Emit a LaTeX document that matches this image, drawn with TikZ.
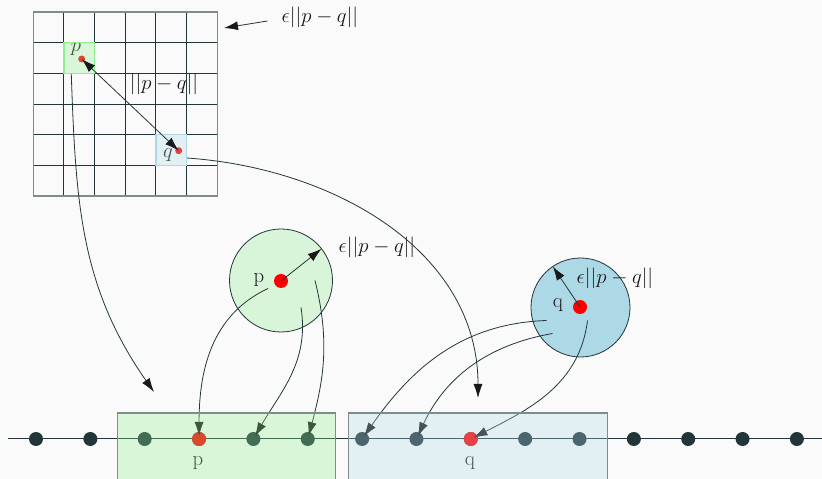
\documentclass[tikz,border=0pt]{standalone}
\usepackage{fontspec}
\usepackage{tikz}
\usetikzlibrary{arrows.meta,calc}
\definecolor{bgc}{HTML}{FAFAFA}
\definecolor{ink}{HTML}{22363A}
\definecolor{rim}{HTML}{7F8C8D}
\definecolor{cellgreen}{HTML}{90EE90}
\definecolor{cellblue}{HTML}{ADD8E6}
\definecolor{discgreen}{HTML}{D9F5D9}

\begin{document}
\begin{tikzpicture}[x=1pt,y=1pt,
  >={Latex[length=14pt,width=9pt,color=black!90]},
  lbl/.style={font=\fontsize{20.74}{24}\selectfont, text=black!90, inner sep=0pt},
  dot/.style={circle, fill=ink, minimum size=14pt, inner sep=0pt, outer sep=0pt},
  reddot/.style={dot, fill=red},
  smalldot/.style={circle, fill=red, minimum size=7pt, inner sep=0pt, outer sep=0pt},
  cellbox/.style={minimum size=30.65pt, inner sep=0pt, fill opacity=0.3, line width=1.2pt},
  disc/.style={circle, draw=ink, line width=0.8pt, inner sep=0pt, outer sep=0pt},
  overlay box/.style={draw=rim, line width=1.2pt, fill opacity=0.3, inner sep=0pt, outer sep=0pt},
  link/.style={->, draw=ink, line width=0.8pt}]
  \useasboundingbox (0,0) rectangle (822,479);
  \fill[bgc] (0,0) rectangle (822,479);

  % grid
  \def\cw{30.65}
  \foreach \i in {1,...,5}{%
    \draw[ink, line width=1pt] ({33.3+\i*\cw},283) -- ++(0,{6*\cw});
    \draw[ink, line width=1pt] (33.3,{283+\i*\cw}) -- ++({6*\cw},0);
  }
  \draw[rim, line width=1.3pt] (33.3,283) rectangle ++({6*\cw},{6*\cw});
  \node[smalldot] (pdot) at (81.7,420) {};
  \node[smalldot] (qdot) at (178.7,328.3) {};
  \node[lbl] (pgrid) at (76,430) {$p$};
  \node[lbl] (qgrid) at (168,324) {$q$};
  \node[cellbox, fill=cellgreen, draw=cellgreen] (cellP) at ({33.3+1.5*\cw},{283+4.5*\cw}) {};
  \node[cellbox, fill=cellblue, draw=cellblue] (cellQ) at ({33.3+4.5*\cw},{283+1.5*\cw}) {};
  \draw[<->, draw=ink, line width=0.8pt] (pdot.center) -- (qdot.center);
  \node[lbl] (dist) at (164,395) {$||p-q||$};
  \node[lbl] (epsTop) at (320,462) {$\epsilon||p-q||$};
  \coordinate (gridTip) at (224,451);
  \draw[link] ($(epsTop.west)+(-14,-4)$) -- (gridTip);

  % neighbourhoods
  \node[disc, fill=discgreen, minimum size=103pt] (circP) at (281,198.5) {};
  \node[reddot] (cP) at (281,198) {};
  \node[lbl] (pcirc) at (259,199) {p};
  \draw[link] (cP.center) -- (circP.38);
  \node[lbl] (epsP) at (377,232) {$\epsilon||p-q||$};

  \node[disc, fill=cellblue, minimum size=99pt] (circQ) at (580.5,171.5) {};
  \node[reddot] (cQ) at (580,172) {};
  \node[lbl] (qcirc) at (558,174) {q};
  \draw[link] (cQ.center) -- (circQ.124);
  \node[lbl] (epsQ) at (615,201) {$\epsilon||p-q||$};

  % the line of points
  \draw[ink, line width=1pt] (8,40) -- (822,40);
  \foreach \i in {0,...,14}{%
    \node[dot] (d\i) at ({36+\i*54.35},40) {};
  }
  \foreach \i in {3,8} \node[reddot] at (d\i) {};
  \node[lbl] (pline) at (198,16) {p};
  \node[lbl] (qline) at (470,16) {q};

  % mappings
  \coordinate (tipA) at (154,87);
  \coordinate (tipB) at (478,81);
  \draw[link] ($(cellP.south)+(-8,0)$) to[out=-88,in=125] (tipA);
  \draw[link] ($(cellQ.east)+(0,-8)$) to[out=-4,in=90] (tipB);
  \draw[link, shorten >=3pt] ($(circP.center)+(-13,-8)$) to[out=205,in=90] (d3.center);
  \draw[link, shorten >=3pt] ($(circP.center)+(20,-27)$) to[out=-81,in=60] (d4.center);
  \draw[link, shorten >=3pt] ($(circP.center)+(34,0)$) to[out=-76,in=75] (d5.center);
  \draw[link, shorten >=3pt] ($(circQ.center)+(-34,-13)$) to[out=182,in=55] (d6.center);
  \draw[link, shorten >=3pt] ($(circQ.center)+(-28,-26)$) to[out=190,in=65] (d7.center);
  \draw[link, shorten >=3pt] ($(circQ.center)+(7,-13)$) to[out=-97,in=27] (d8.center);

  % ranges on the line
  \node[overlay box, fill=cellgreen, minimum width=218pt, minimum height=69.3pt] (boxP) at (226.3,31.3) {};
  \node[overlay box, fill=cellblue, minimum width=258.6pt, minimum height=69.3pt] (boxQ) at (478,31.3) {};
\end{tikzpicture}
\end{document}
